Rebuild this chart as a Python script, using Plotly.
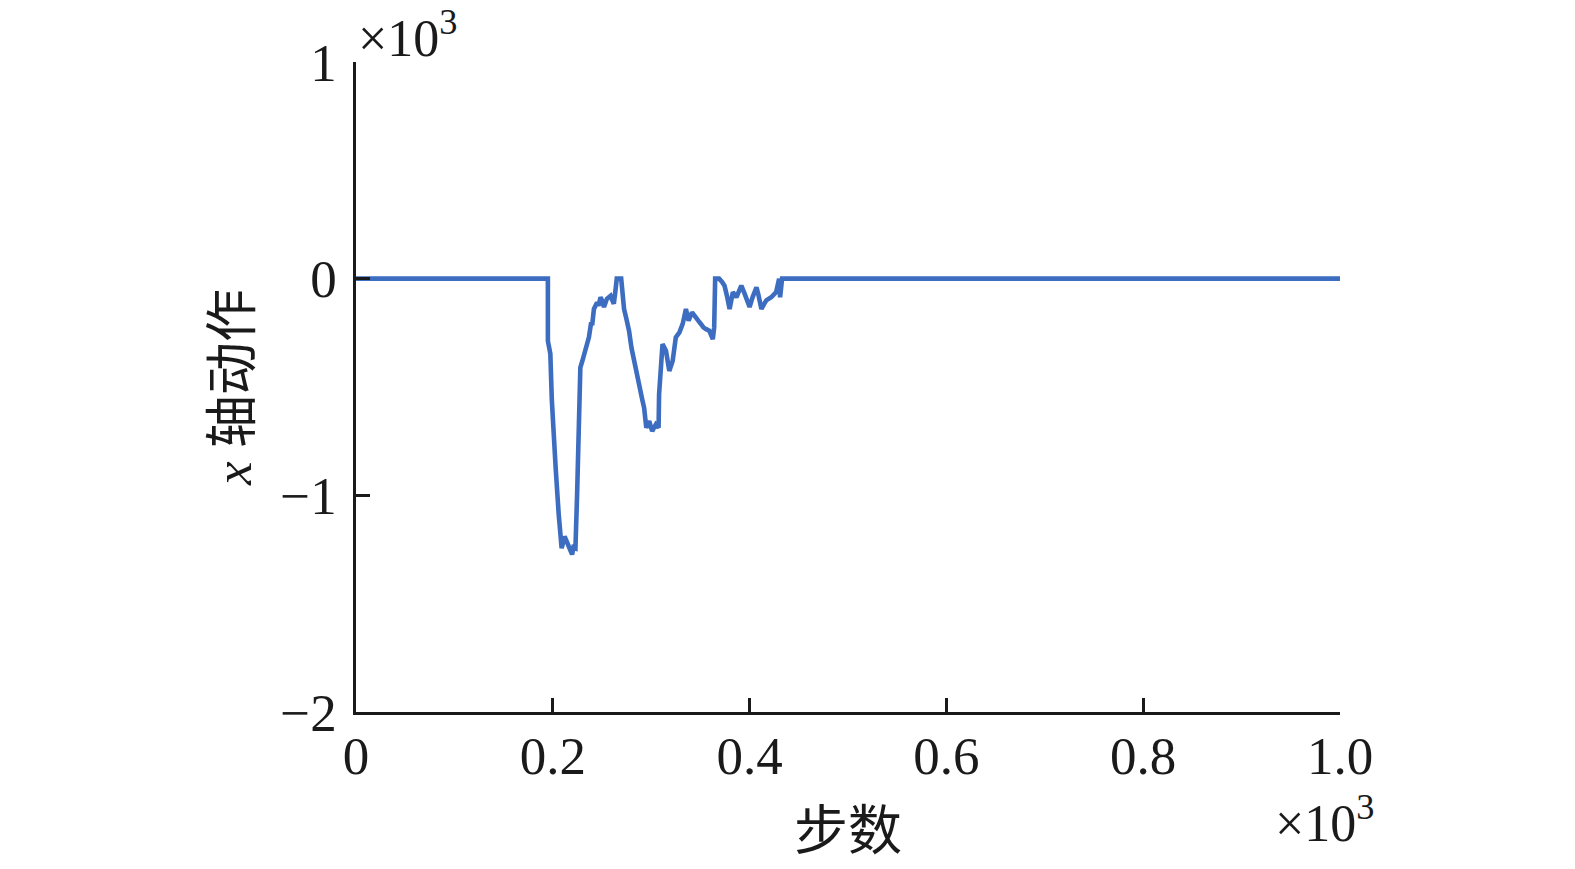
import plotly.graph_objects as go

steps = [0, 195, 195, 197.5, 199, 201, 203, 206, 209, 212, 214, 216, 218, 219.6, 221, 223, 224.7, 226,
         228, 230, 233, 235, 236.7, 239, 240, 241.8, 245, 246.5, 248.5, 250, 252, 255, 258.7, 260, 262,
         263.5, 265, 269.5, 271, 272.4, 275, 277.5, 280, 282.6, 286, 289, 291, 292.8, 295, 298, 301,
         304.7, 307.5, 308, 311.5, 315, 318.4, 321.8, 325, 328.7, 332, 335.3, 338, 341.5, 345.5, 348,
         350.7, 353, 355.8, 359, 362.6, 364, 365, 369, 372, 374.5, 377, 379.7, 383, 386.6, 389, 391.6,
         395, 397, 400, 403, 407, 409, 412, 415, 417, 422, 425, 427, 430, 431, 433, 1000]
action = [0, 0, -287, -347, -560, -781, -880, -1088, -1244, -1190, -1215, -1227, -1250, -1273, -1240,
          -1244, -996, -700, -410, -380, -325, -300, -271, -202, -215, -140, -110, -125, -86, -100,
          -131, -93, -79, -95, -116, -62, 0, 0, -60, -140, -190, -241, -320, -380, -472, -534, -560,
          -596, -688, -657, -704, -673, -688, -534, -302, -333, -426, -380, -271, -248, -209, -140,
          -194, -156, -186, -195, -210, -225, -233, -240, -279, -225, 0, 0, -15, -32, -80, -140, -62,
          -86, -60, -32, -70, -95, -131, -86, -40, -75, -140, -115, -100, -86, -75, -62, 0, -86, 0, 0]

x_tickvals = [0, 200, 400, 600, 800, 1000]
x_ticktext = ["0", "0.2", "0.4", "0.6", "0.8", "1.0"]
y_tickvals = [-2000, -1000, 0, 1000]
y_ticktext = ["\u22122", "\u22121", "0", "1"]

serif = "Liberation Serif, Times New Roman, serif"
cjk = "Liberation Serif, Noto Sans CJK SC, serif"
txt = "#1a1a1a"

fig = go.Figure()
fig.add_trace(go.Scatter(x=steps, y=action, mode="lines",
                         line=dict(color="#3d6dc0", width=4.6), showlegend=False))

fig.update_layout(
    width=1575, height=869,
    margin=dict(l=348, r=243, t=54, b=165),
    plot_bgcolor="white", paper_bgcolor="white",
    font=dict(family=serif, size=52, color=txt),
    xaxis=dict(range=[0, 1000], tickvals=x_tickvals, ticktext=x_ticktext,
               showgrid=False, zeroline=False, showline=True, linecolor="#1a1a1a", linewidth=2.5,
               ticks="inside", ticklen=14, tickwidth=2.5, tickcolor="#1a1a1a",
               tickfont=dict(family=serif, size=53, color=txt), ticklabelstandoff=-4,
               title=dict(text="步数", font=dict(family=cjk, size=54, color=txt), standoff=28)),
    yaxis=dict(range=[-2000, 1000], tickvals=y_tickvals, ticktext=y_ticktext,
               showgrid=False, zeroline=False, showline=True, linecolor="#1a1a1a", linewidth=2.5,
               ticks="inside", ticklen=14, tickwidth=2.5, tickcolor="#1a1a1a",
               tickfont=dict(family=serif, size=53, color=txt), ticklabelstandoff=6,
               title=dict(text="<i>x</i> 轴动作", font=dict(family=cjk, size=53, color=txt), standoff=12)),
    annotations=[
        dict(text="×10<sup>3</sup>", x=0, y=1, xref="paper", yref="paper", xanchor="left", yanchor="bottom",
             xshift=0, yshift=-7, showarrow=False, font=dict(family=serif, size=52, color=txt)),
        dict(text="×10<sup>3</sup>", x=1, y=0, xref="paper", yref="paper", xanchor="center", yanchor="top",
             xshift=-15, yshift=-73, showarrow=False, font=dict(family=serif, size=52, color=txt)),
    ],
)

fig.write_html("out.html")
